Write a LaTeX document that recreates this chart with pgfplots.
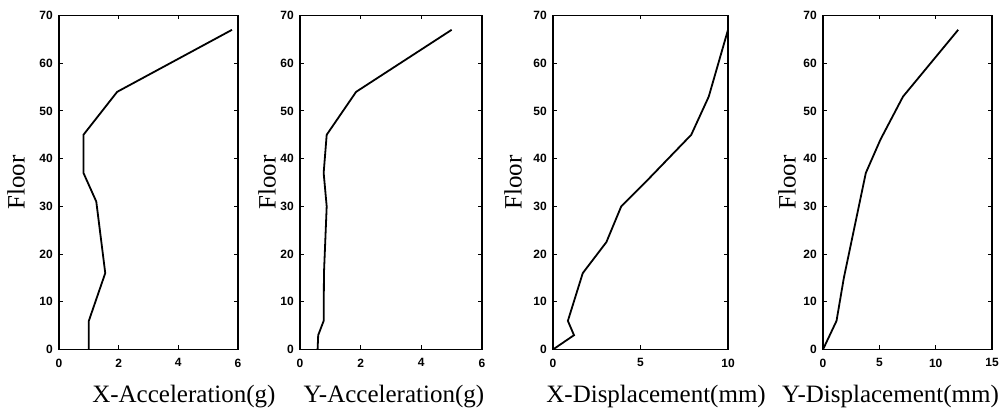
\documentclass[border=0pt]{standalone}
\usepackage{fontspec}
\setmainfont{Liberation Serif}
\newfontfamily\ticksf{Liberation Sans}
\usepackage{pgfplots}
\pgfplotsset{compat=1.18}

\pgfplotsset{
  panel/.style={
    scale only axis,
    height=334pt,
    ymin=0, ymax=70,
    ytick={0,10,...,70},
    tick align=inside,
    major tick length=4pt,
    axis line style={line width=1.6pt},
    every tick/.style={black, line width=1pt},
    /pgf/number format/assume math mode=true,
    ticklabel style={font=\ticksf\bfseries\fontsize{12}{12}\selectfont},
    xticklabel style={anchor=north, inner sep=0pt, yshift=-9pt},
    yticklabel style={anchor=east, inner sep=0pt, xshift=-6pt},
    ylabel={Floor},
    label style={font=\fontsize{25}{25}\selectfont},
  },
  line/.style={black, line width=1.8pt},
}

\begin{document}
\begin{tikzpicture}[x=1pt,y=1pt]

% panel 1
\begin{axis}[panel, at={(59pt,61.5pt)}, anchor=south west, width=179pt,
    xmin=0, xmax=6, xtick={0,2,4,6},
    xlabel={X-Acceleration(g)},
    xlabel style={at={(axis description cs:0.698,-0.160)}, anchor=base, inner sep=0pt},
    ylabel style={at={(axis description cs:-0.19,0.5)}, anchor=south, inner sep=0pt}]
  \addplot[line] coordinates {
    (1.0,0) (1.0,6) (1.55,16) (1.25,31) (0.82,37) (0.82,45) (1.95,54) (5.8,67)
  };
\end{axis}

% panel 2
\begin{axis}[panel, at={(300pt,61.5pt)}, anchor=south west, width=182pt,
    xmin=0, xmax=6, xtick={0,2,4,6},
    xlabel={Y-Acceleration(g)},
    xlabel style={at={(axis description cs:0.516,-0.160)}, anchor=base, inner sep=0pt},
    ylabel style={at={(axis description cs:-0.132,0.5)}, anchor=south, inner sep=0pt}]
  \addplot[line] coordinates {
    (0.58,0) (0.6,3) (0.78,6) (0.79,16) (0.88,30) (0.78,37) (0.88,45) (1.85,54) (5.0,67)
  };
\end{axis}

% panel 3
\begin{axis}[panel, at={(553pt,61.5pt)}, anchor=south west, width=175pt,
    xmin=0, xmax=10, xtick={0,5,10},
    xlabel={X-Displacement(mm)},
    xlabel style={at={(axis description cs:0.589,-0.160)}, anchor=base, inner sep=0pt},
    ylabel style={at={(axis description cs:-0.177,0.5)}, anchor=south, inner sep=0pt}]
  \addplot[line] coordinates {
    (0,0) (1.2,3) (0.85,6) (1.7,16) (3.05,22.5) (3.9,30) (5.4,35.5) (7.9,45) (8.9,53) (10,67)
  };
\end{axis}

% panel 4 (a little narrower so that the last tick label and the label fit)
\begin{axis}[panel, at={(823pt,61.5pt)}, anchor=south west, width=169pt,
    xmin=0, xmax=15, xtick={0,5,10,15},
    xlabel={Y-Displacement(mm)},
    xlabel style={at={(axis description cs:1.0,-0.160)}, anchor=base east, inner sep=0pt, xshift=7pt},
    ylabel style={at={(axis description cs:-0.16,0.5)}, anchor=south, inner sep=0pt}]
  \addplot[line] coordinates {
    (0,0) (1.2,6) (1.85,15) (3.8,37) (5.1,44) (7.1,53) (7.8,55) (12.0,67)
  };
\end{axis}

\pgfresetboundingbox
\path[use as bounding box] (0,0) rectangle (1002,411);
\end{tikzpicture}
\end{document}
